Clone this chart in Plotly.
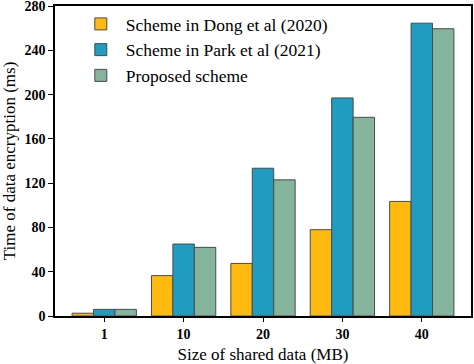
import plotly.graph_objects as go

sizes = ["1", "10", "20", "30", "40"]
dong = [2.5, 36.5, 47.5, 78, 103.5]
park = [6, 65, 133.5, 197, 264.5]
proposed = [6, 62, 123, 179.5, 259.5]
y_ticks = [0, 40, 80, 120, 160, 200, 240, 280]

series = [
    ("Scheme in Dong et al (2020)", dong, "#FFB90F"),
    ("Scheme in Park et al (2021)", park, "#209CC0"),
    ("Proposed scheme", proposed, "#84B49B"),
]

fig = go.Figure()
for name, vals, color in series:
    fig.add_trace(go.Bar(
        x=sizes, y=vals, name=name,
        marker=dict(color=color, line=dict(color="#4a4a4a", width=1)),
    ))

serif = "Liberation Serif, Times New Roman, serif"
fig.update_layout(
    width=474, height=364,
    margin=dict(l=55, r=3, t=6, b=48),
    paper_bgcolor="white", plot_bgcolor="white",
    barmode="group", bargap=0.19, bargroupgap=0,
    font=dict(family=serif, color="black"),
    showlegend=True,
    legend=dict(
        x=0.05, y=1.0, xanchor="left", yanchor="top",
        font=dict(family=serif, size=17.5, color="black"),
        bgcolor="rgba(0,0,0,0)", itemwidth=40, tracegroupgap=0,
    ),
    xaxis=dict(
        type="category", range=[-0.62, 4.62], automargin=False,
        showline=True, linecolor="black", linewidth=1.5, mirror=True,
        ticks="outside", ticklen=4, tickcolor="black",
        tickfont=dict(family=serif, size=14, color="black", weight="bold"),
        title=dict(text="Size of shared data (MB)", font=dict(family=serif, size=17), standoff=10),
        showgrid=False, ticklabeloverflow="allow", ticklabelstandoff=0,
    ),
    yaxis=dict(
        range=[0, 280.05], tickvals=y_ticks, automargin=False,
        showline=True, linecolor="black", linewidth=1.5, mirror=True,
        ticks="outside", ticklen=5, tickcolor="black",
        tickfont=dict(family=serif, size=14, color="black", weight="bold"),
        title=dict(text="Time of data encryption (ms)", font=dict(family=serif, size=17), standoff=6),
        showgrid=False, zeroline=False, ticklabeloverflow="allow",
    ),
)
fig.write_html("out.html", config={"displayModeBar": False},
               post_script="document.body.style.margin='0';")
